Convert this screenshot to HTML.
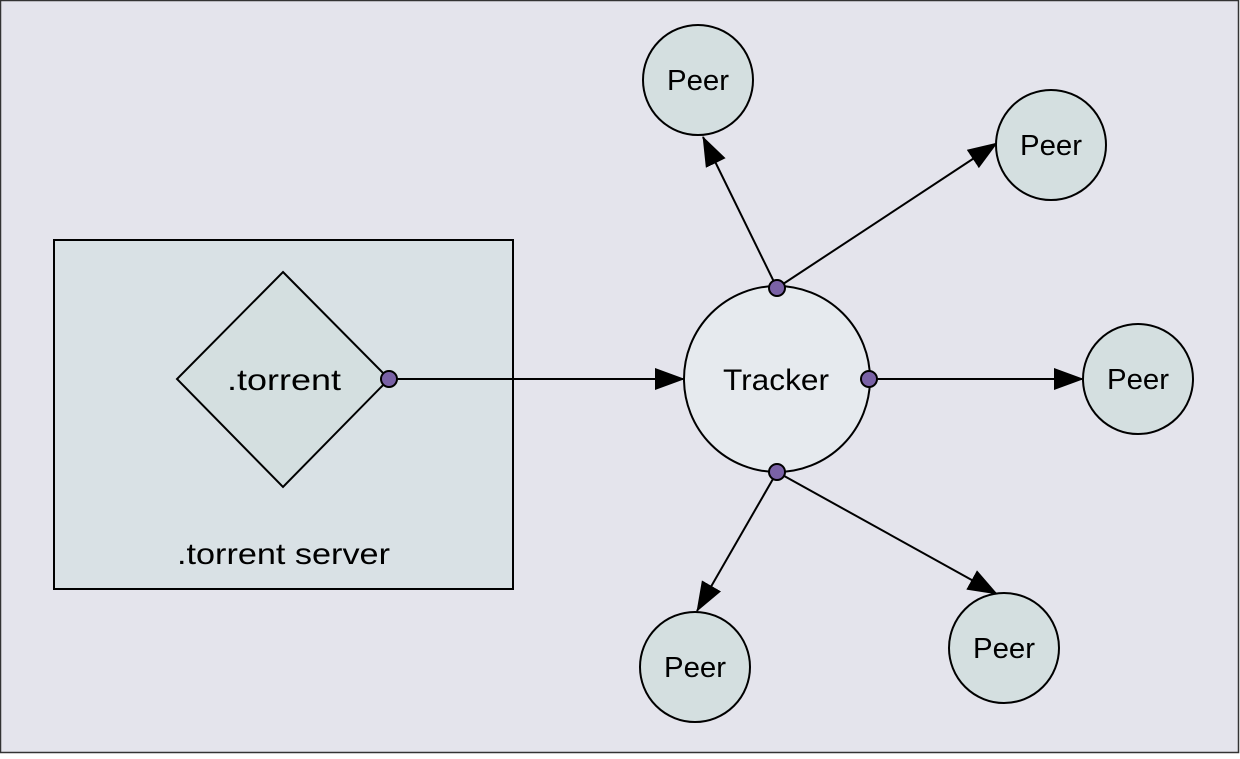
<!DOCTYPE html>
<html><head><meta charset="utf-8"><style>html,body{margin:0;padding:0}</style></head><body>
<svg width="1240" height="754" viewBox="0 0 1240 754" xmlns="http://www.w3.org/2000/svg" font-family="Liberation Sans, sans-serif">
<defs>
<marker id="b" markerWidth="30" markerHeight="22" refX="29" refY="11" orient="auto" markerUnits="userSpaceOnUse" viewBox="0 0 30 22"><path d="M0,0 L30,11 L0,22 z" fill="#000"/></marker></defs>
<rect x="0.5" y="0.5" width="1238" height="752" fill="#e4e4ec" stroke="#333" stroke-width="1.5"/>
<rect x="54" y="240" width="459" height="349" fill="#d9e1e5" stroke="#000" stroke-width="2"/>
<polygon points="283,272 389,379 283,487 177,379" fill="#d4dfe0" stroke="#000" stroke-width="2"/>
<text x="227" y="390" font-size="30" textLength="114" lengthAdjust="spacingAndGlyphs">.torrent</text>
<text x="177" y="564" font-size="30" textLength="213" lengthAdjust="spacingAndGlyphs">.torrent server</text>
<g stroke="#000" stroke-width="2" fill="none">
<line x1="389" y1="379" x2="684" y2="379" marker-end="url(#b)"/>
<line x1="777" y1="288" x2="703" y2="137" marker-end="url(#b)"/>
<line x1="777" y1="288" x2="997" y2="143" marker-end="url(#b)"/>
<line x1="869" y1="379" x2="1083" y2="379" marker-end="url(#b)"/>
<line x1="777" y1="472" x2="697" y2="611" marker-end="url(#b)"/>
<line x1="777" y1="472" x2="997" y2="594" marker-end="url(#b)"/>
</g>
<circle cx="777" cy="379" r="93" fill="#e6eaee" stroke="#000" stroke-width="2"/>
<text x="723" y="390" font-size="30" textLength="106" lengthAdjust="spacingAndGlyphs">Tracker</text>
<g fill="#d4dfe0" stroke="#000" stroke-width="2">
<circle cx="698" cy="80" r="55"/><circle cx="1051" cy="145" r="55"/><circle cx="1138" cy="379" r="55"/><circle cx="695" cy="667" r="55"/><circle cx="1004" cy="648" r="55"/>
</g>
<g font-size="29">
<text x="667" y="90" textLength="62" lengthAdjust="spacingAndGlyphs">Peer</text>
<text x="1020" y="155" textLength="62" lengthAdjust="spacingAndGlyphs">Peer</text>
<text x="1107" y="389" textLength="62" lengthAdjust="spacingAndGlyphs">Peer</text>
<text x="664" y="677" textLength="62" lengthAdjust="spacingAndGlyphs">Peer</text>
<text x="973" y="658" textLength="62" lengthAdjust="spacingAndGlyphs">Peer</text>
</g>
<g fill="#7a62a6" stroke="#000" stroke-width="2">
<circle cx="389" cy="379" r="8"/><circle cx="777" cy="288" r="8"/><circle cx="869" cy="379" r="8"/><circle cx="777" cy="472" r="8"/>
</g>
</svg>
</body></html>
